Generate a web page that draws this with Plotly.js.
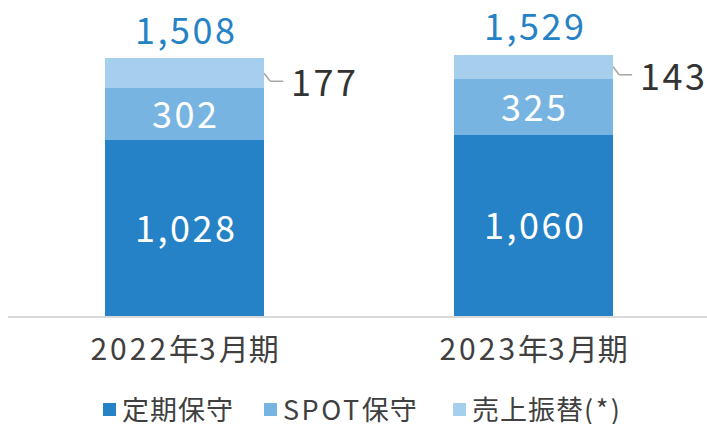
<!DOCTYPE html>
<html><head><meta charset="utf-8">
<script src="https://cdn.plot.ly/plotly-3.0.1.min.js"></script>
<style>html,body{margin:0;padding:0;background:#fff;}#chart{width:707px;height:424px;}</style>
</head><body><div id="chart"></div>
<script>
const categories = ['2022年3月期', '2023年3月期'];
const regular = [1028, 1060];   // 定期保守
const spot = [302, 325];        // SPOT保守
const transfer = [177, 143];    // 売上振替(*)
const totals = [1508, 1529];
const seriesNames = ['定期保守', 'SPOT保守', '売上振替(*)'];
const seriesColors = ['#2682c6', '#77b4e2', '#a6cfee'];

const FONT = '"Noto Sans CJK JP", "Noto Sans", sans-serif';
const fmt = v => v.toLocaleString('en-US');
const CJK = /[\u3000-\u9fff\uff00-\uffef]/;
function spaced(str, latin, cjk) {
  const runs = str.match(/[\u3000-\u9fff\uff00-\uffef]+|[^\u3000-\u9fff\uff00-\uffef]+/g);
  return runs.map(r => {
    const sp = CJK.test(r) ? cjk : latin;
    return sp ? '<span style="letter-spacing:' + sp + 'px">' + r + '</span>' : r;
  }).join('');
}
const series = [regular, spot, transfer];
const BARGAP = 0.544;
const half = (1 - BARGAP) / 2;

const traces = series.map((vals, k) => ({
  type: 'bar', x: categories, y: vals, name: seriesNames[k],
  marker: {color: seriesColors[k], line: {width: 0}},
  hoverinfo: 'none', showlegend: false
}));

const VALSIZE = 36, VALSP = 2.5;
const annotations = [];
const shapes = [];
categories.forEach((c, i) => {
  annotations.push({x: i, y: regular[i] / 2, xref: 'x', yref: 'y', text: spaced(fmt(regular[i]), VALSP, 0),
    showarrow: false, yshift: 2, xshift: 1, font: {family: FONT, size: VALSIZE, color: '#ffffff'}});
  annotations.push({x: i, y: regular[i] + spot[i] / 2, xref: 'x', yref: 'y', text: spaced(fmt(spot[i]), VALSP, 0),
    showarrow: false, yshift: 2, xshift: 1, font: {family: FONT, size: VALSIZE, color: '#ffffff'}});
  annotations.push({x: i, y: totals[i], xref: 'x', yref: 'y', text: spaced(fmt(totals[i]), VALSP, 0),
    showarrow: false, yanchor: 'bottom', yshift: 2, xshift: 1, font: {family: FONT, size: VALSIZE, color: '#2682c6'}});
  const ymid = regular[i] + spot[i] + transfer[i] / 2;
  annotations.push({x: i + half, y: ymid, xref: 'x', yref: 'y', text: spaced(fmt(transfer[i]), VALSP, 0),
    showarrow: false, xanchor: 'left', xshift: 25, yshift: -7, font: {family: FONT, size: VALSIZE, color: '#333333'}});
  shapes.push({type: 'line', xref: 'x', yref: 'y', xsizemode: 'pixel', ysizemode: 'pixel',
    xanchor: i + half, yanchor: ymid, x0: 0, x1: 6, y0: 0, y1: -8, line: {color: '#a6a6a6', width: 1.5}});
  shapes.push({type: 'line', xref: 'x', yref: 'y', xsizemode: 'pixel', ysizemode: 'pixel',
    xanchor: i + half, yanchor: ymid, x0: 6, x1: 19, y0: -8, y1: -8, line: {color: '#a6a6a6', width: 1.5}});
});

// custom legend
const plotL = 8, plotW = 699, plotB = 316, plotH = 308;
const legSquares = [103, 264, 453];
const legY = 409.5;
const py = p => (plotB - p) / plotH;
const px = p => (p - plotL) / plotW;
seriesNames.forEach((n, k) => {
  shapes.push({type: 'rect', xref: 'paper', yref: 'paper', x0: px(legSquares[k]), x1: px(legSquares[k] + 13),
    y0: py(legY + 6.5), y1: py(legY - 6.5), fillcolor: seriesColors[k], line: {width: 0}});
  annotations.push({xref: 'paper', yref: 'paper', x: px(legSquares[k] + 17), y: py(legY), xanchor: 'left', yanchor: 'middle',
    text: spaced(n, 2.5, 1), showarrow: false, yshift: 1, font: {family: FONT, size: 27, color: '#404040'}});
});

const layout = {
  width: 707, height: 424,
  margin: {l: plotL, r: 707 - plotL - plotW, t: 8, b: 424 - plotB},
  paper_bgcolor: '#ffffff', plot_bgcolor: '#ffffff',
  barmode: 'stack', bargap: BARGAP,
  showlegend: false,
  xaxis: {type: 'category', range: [-0.506, 1.497], showline: true, linecolor: '#d9d9d9', linewidth: 2,
    tickmode: 'array', tickvals: categories, ticktext: categories.map(c => spaced(c, 3, 0)),
    ticks: '', showgrid: false, zeroline: false, tickfont: {family: FONT, size: 30, color: '#404040'}, ticklabelstandoff: 6},
  yaxis: {range: [0, 1800], visible: false, showgrid: false, zeroline: false},
  annotations, shapes,
  font: {family: FONT}
};
Plotly.newPlot('chart', traces, layout, {staticPlot: true, displayModeBar: false});
</script></body></html>
